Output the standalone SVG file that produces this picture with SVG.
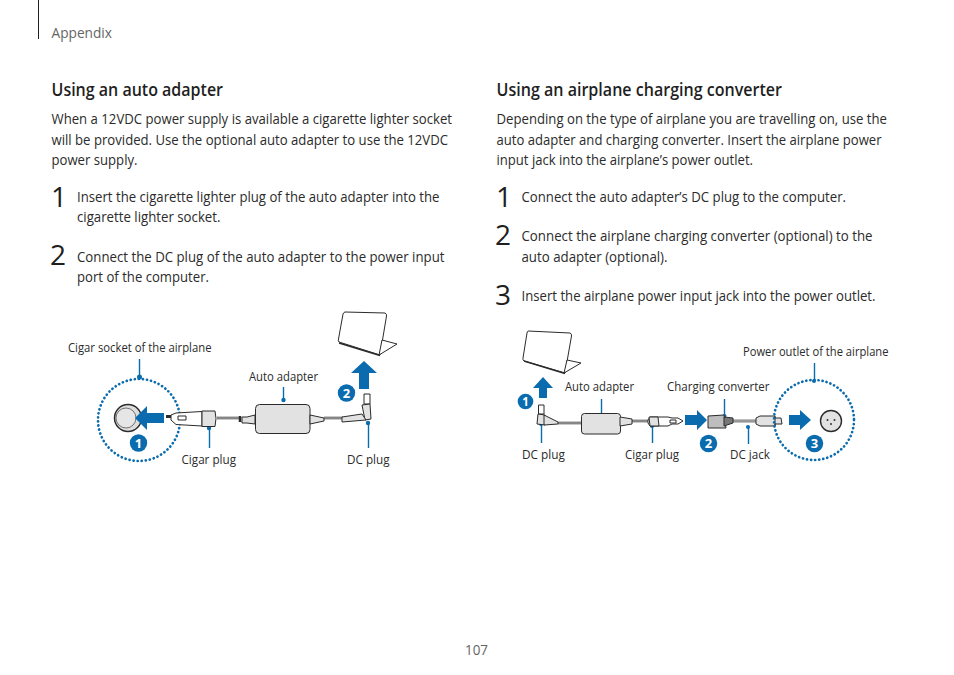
<svg xmlns="http://www.w3.org/2000/svg" width="954" height="675" viewBox="0 0 954 675">
<style>
text{font-family:"Open Sans","Noto Sans","Liberation Sans",sans-serif;fill:#2b2b2b}
.b{font-size:15px}
.h{font-size:17.500px;font-weight:600;fill:#1f1f1f}
.l{font-size:12.500px}
.n{font-size:28px;fill:#1f1f1f}
.g{fill:#666;font-size:14.500px}
.ln{stroke:#0a6cae;stroke-width:1.4;fill:none}
.dot{fill:#0a6cae}
.ring{fill:none;stroke:#0a6cae;stroke-width:2.7;stroke-dasharray:0.1 4;stroke-linecap:round}
.ar{fill:#0a6cae}
.bd{fill:#0a6cae}
.bt{fill:#fff;font-size:13px;font-weight:700;text-anchor:middle}
.o{stroke:#2b2b2b;stroke-width:1;fill:#e2e2e2;stroke-linejoin:round}
.w{stroke:#2b2b2b;stroke-width:1;fill:#fff;stroke-linejoin:round}
.wire{stroke:#2b2b2b;stroke-width:2.6;fill:none}
.wi{stroke:#e2e2e2;stroke-width:1.2;fill:none}
</style>
<g id="header">
<line x1="38.500" y1="0" x2="38.500" y2="39" stroke="#222" stroke-width="1"/>
<text class="g" x="51.500" y="38" textLength="60.500" lengthAdjust="spacingAndGlyphs">Appendix</text>
<text class="g" x="465" y="655" textLength="23" lengthAdjust="spacingAndGlyphs">107</text>
</g>
<g id="left-text">
<text class="h" x="51.500" y="95.500" textLength="171.500" lengthAdjust="spacingAndGlyphs">Using an auto adapter</text>
<text class="b" x="51.500" y="124" textLength="400.500" lengthAdjust="spacingAndGlyphs">When a 12VDC power supply is available a cigarette lighter socket</text>
<text class="b" x="51.500" y="145" textLength="396.500" lengthAdjust="spacingAndGlyphs">will be provided. Use the optional auto adapter to use the 12VDC</text>
<text class="b" x="51.500" y="165" textLength="86" lengthAdjust="spacingAndGlyphs">power supply.</text>
<text class="n" x="51" y="207">1</text>
<text class="b" x="77" y="202" textLength="362.500" lengthAdjust="spacingAndGlyphs">Insert the cigarette lighter plug of the auto adapter into the</text>
<text class="b" x="77" y="222" textLength="143.500" lengthAdjust="spacingAndGlyphs">cigarette lighter socket.</text>
<text class="n" x="50" y="265">2</text>
<text class="b" x="77" y="262" textLength="367.500" lengthAdjust="spacingAndGlyphs">Connect the DC plug of the auto adapter to the power input</text>
<text class="b" x="77" y="282" textLength="132" lengthAdjust="spacingAndGlyphs">port of the computer.</text>
</g>
<g id="right-text">
<text class="h" x="496.500" y="95.500" textLength="285.500" lengthAdjust="spacingAndGlyphs">Using an airplane charging converter</text>
<text class="b" x="496.500" y="124" textLength="390.500" lengthAdjust="spacingAndGlyphs">Depending on the type of airplane you are travelling on, use the</text>
<text class="b" x="496.500" y="145" textLength="385" lengthAdjust="spacingAndGlyphs">auto adapter and charging converter. Insert the airplane power</text>
<text class="b" x="496.500" y="165" textLength="256.500" lengthAdjust="spacingAndGlyphs">input jack into the airplane’s power outlet.</text>
<text class="n" x="496" y="207">1</text>
<text class="b" x="521.500" y="202" textLength="324.500" lengthAdjust="spacingAndGlyphs">Connect the auto adapter’s DC plug to the computer.</text>
<text class="n" x="495" y="245">2</text>
<text class="b" x="521.500" y="241" textLength="351" lengthAdjust="spacingAndGlyphs">Connect the airplane charging converter (optional) to the</text>
<text class="b" x="521.500" y="262" textLength="146" lengthAdjust="spacingAndGlyphs">auto adapter (optional).</text>
<text class="n" x="495" y="305">3</text>
<text class="b" x="521.500" y="301" textLength="354" lengthAdjust="spacingAndGlyphs">Insert the airplane power input jack into the power outlet.</text>
</g>
<g id="connectors">
<path class="wire" d="M217 418H241M324 418H343"/><path class="wi" d="M217 418H241M324 418H343"/>
<path class="wire" d="M558 423H581M632 421H648"/><path class="wi" d="M558 423H581M632 421H648"/>
<path class="wire" d="M733 421H756"/><path class="wi" d="M733 421H756"/>
<path class="ln" d="M139.500 359V376M209.500 428V448M283.500 387V400M368.500 423V448"/>
<path class="ln" d="M601.500 399V416M724.500 399V416M814.500 363V381M541.500 424V443M652.500 426V443M748.500 427V444"/>
<circle class="dot" cx="139.500" cy="377" r="2.500"/><circle class="dot" cx="209" cy="428" r="2.200"/><circle class="dot" cx="283.500" cy="400" r="2.200"/><circle class="dot" cx="368" cy="423" r="2.200"/>
<circle class="dot" cx="601" cy="416" r="2"/><circle class="dot" cx="724.500" cy="416" r="2"/><circle class="dot" cx="814" cy="381" r="2"/><circle class="dot" cx="541" cy="424" r="2"/><circle class="dot" cx="652" cy="426" r="2"/><circle class="dot" cx="748" cy="427" r="2"/>
</g>
<g id="socket-left">
<circle class="ring" cx="139" cy="420" r="41"/>
<circle cx="128" cy="418" r="13.500" fill="#ddd" stroke="#2b2b2b" stroke-width="1.500"/>
<circle cx="126" cy="418" r="10" fill="#e6e6e6" stroke="#555" stroke-width="0.800"/>
<path class="ar" d="M135 418L147 406V413H164V423H147V430Z"/>
<circle class="bd" cx="138.500" cy="443" r="8.700"/><text class="bt" x="138.500" y="448">1</text>
<text class="l" x="68" y="352" textLength="143.500" lengthAdjust="spacingAndGlyphs">Cigar socket of the airplane</text>
</g>
<g id="cigar-plug-left">
<path d="M166 416.500H171" stroke="#2b2b2b" stroke-width="3"/>
<path class="w" d="M171 415L176 413L202 411.500V426L176 424.500L171 420Z"/>
<path class="o" d="M202 411H215Q217 418 215 426.500H202Z"/>
<rect class="w" x="178" y="416" width="8" height="4"/>
<path d="M240 416V422" stroke="#2b2b2b" stroke-width="2.500"/>
<text class="l" x="181.500" y="464" textLength="54.500" lengthAdjust="spacingAndGlyphs">Cigar plug</text>
</g>
<g id="adapter-left">
<rect class="o" x="255.500" y="404.500" width="54.500" height="29" rx="4"/>
<path class="o" d="M255 415V424L247 423H242V417H247Z"/>
<path class="o" d="M310 415L324 418V421L310 424Z"/>
<text class="l" x="249" y="381" textLength="69" lengthAdjust="spacingAndGlyphs">Auto adapter</text>
</g>
<g id="dc-plug-left">
<rect class="w" x="364" y="394" width="6" height="10"/>
<path class="o" d="M362 405L370 404L371 419L365 420Z"/>
<path class="o" d="M342 417L362 414L366 420L342 422Z"/>
<text class="l" x="347" y="464" textLength="42.500" lengthAdjust="spacingAndGlyphs">DC plug</text>
</g>
<g id="laptop-left">
<path class="w" d="M345 312L385 313Q387 314 386.500 316L380 355L339 342Q338 341 338.500 339L343 314Q344 312 345 312Z"/>
<path class="w" d="M382 340L397 344L379 355Z"/>
<path d="M339 343L380 355.500" stroke="#2b2b2b" stroke-width="1.500"/>
<path class="ar" d="M364 361L377 373H369V389H359V373H351Z"/>
<circle class="bd" cx="346.500" cy="393" r="8.700"/><text class="bt" x="346.500" y="398">2</text>
</g>
<g id="laptop-right">
<path class="w" d="M528 331L570 333Q572 334 571.500 336L565 373L524 361Q522.500 360 523 358L527 333Q527.500 331 528 331Z"/>
<path class="w" d="M567 360L581 363L564 373Z"/>
<path d="M524 361L565 373.500" stroke="#2b2b2b" stroke-width="1.500"/>
<path class="ar" d="M543 377L553 388H547V398H539V388H533Z"/>
<circle class="bd" cx="525.500" cy="401.500" r="7.800"/><text class="bt" x="525.500" y="406" style="font-size:11.500px">1</text>
</g>
<g id="dc-plug-right">
<rect class="w" x="538.500" y="405" width="5.500" height="9"/>
<path class="o" d="M538 414L545 415L545 425L537 424Z"/>
<path class="o" d="M544 415L558 422V424L544 425Z"/>
<text class="l" x="522" y="459" textLength="43" lengthAdjust="spacingAndGlyphs">DC plug</text>
</g>
<g id="adapter-right">
<rect class="o" x="581.500" y="413.500" width="39" height="20.500" rx="3"/>
<path class="o" d="M620 417L632 419V424L620 426Z"/>
<text class="l" x="565" y="391" textLength="69" lengthAdjust="spacingAndGlyphs">Auto adapter</text>
</g>
<g id="cigar-plug-right">
<path class="w" d="M648 420L650 417H668L672 418H678L683 421L678 424H672L668 426H650L648 423Z"/>
<path class="o" d="M649 417H658L659 426H650Z"/>
<rect class="w" x="670" y="420" width="6" height="3"/>
<text class="l" x="625" y="459" textLength="54" lengthAdjust="spacingAndGlyphs">Cigar plug</text>
</g>
<g id="converter">
<path class="ar" d="M707 420L697 410V415H685V425H697V430Z"/>
<path class="o" d="M708 416L724 415L726 428L708 428Z" style="fill:#bdbdbd"/>
<path class="w" d="M724 417L733 418V423L724 426Z" style="fill:#777"/>
<circle class="bd" cx="708.500" cy="443.500" r="8.700"/><text class="bt" x="708.500" y="448">2</text>
<text class="l" x="667" y="391" textLength="102.500" lengthAdjust="spacingAndGlyphs">Charging converter</text>
</g>
<g id="dc-jack">
<path class="w" d="M756 418L760 416H775V418H781L782 424H775V426H760L756 424Z" style="fill:#e2e2e2"/>
<path d="M775 416.500V426" stroke="#2b2b2b" stroke-width="1"/>
<text class="l" x="730" y="459" textLength="40" lengthAdjust="spacingAndGlyphs">DC jack</text>
</g>
<g id="outlet">
<circle class="ring" cx="814" cy="420" r="40"/>
<path class="ar" d="M811 420L800 410V415H789V425H800V430Z"/>
<circle cx="831" cy="421" r="10.500" fill="#e2e2e2" stroke="#2b2b2b" stroke-width="1.400"/>
<circle cx="827.500" cy="420" r="1" fill="#333"/><circle cx="834.500" cy="420" r="1" fill="#333"/><circle cx="831" cy="424" r="1" fill="#333"/>
<circle class="bd" cx="814.500" cy="443.500" r="8.700"/><text class="bt" x="814.500" y="448">3</text>
<text class="l" x="743" y="356" textLength="145.500" lengthAdjust="spacingAndGlyphs">Power outlet of the airplane</text>
</g>
</svg>
